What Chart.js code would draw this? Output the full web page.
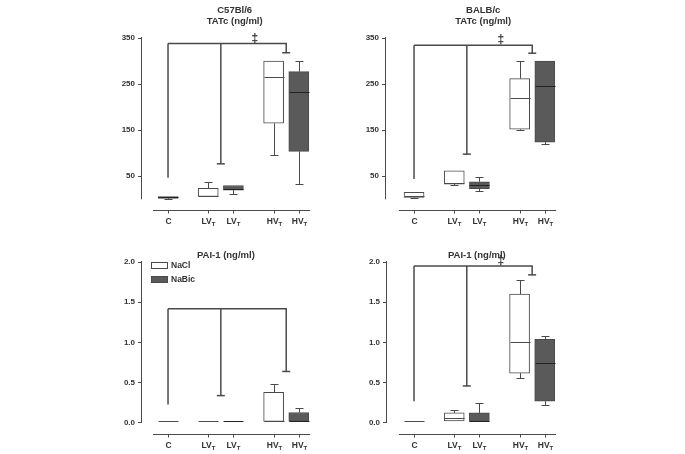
<!DOCTYPE html>
<html lang="en">
<head>
<meta charset="UTF-8" />
<title>TATc and PAI-1</title>
<script src="https://cdn.jsdelivr.net/npm/chart.js@4.4.1/dist/chart.umd.min.js"></script>
<style>
  body { margin: 0; background: #fff; }
  #fig { position: relative; width: 685px; height: 454px; overflow: hidden; }
  #fig canvas { position: absolute; }
</style>
</head>
<body>
<div id="fig">
  <canvas id="tatC57" width="230" height="230" style="left:100px;top:0px"></canvas>
  <canvas id="tatBalb" width="230" height="230" style="left:340px;top:0px"></canvas>
  <canvas id="paiC57" width="230" height="214" style="left:100px;top:240px"></canvas>
  <canvas id="paiBalb" width="230" height="214" style="left:340px;top:240px"></canvas>
</div>
<script>
  // groups along the x axis (main label + subscript)
  const groups = ["C", "LV", "LV", "HV", "HV"];
  const groupSub = ["", "T", "T", "T", "T"];
  const treatment = ["C", "NaCl", "NaBic", "NaCl", "NaBic"];

  // TATc, C57Bl/6
  const tatC57Min = [1, 4, 12, 96, 34];
  const tatC57Q1 = [2, 6, 20, 165, 104];
  const tatC57Med = [4, 8, 23, 266, 233];
  const tatC57Q3 = [6, 24, 30, 300, 277];
  const tatC57Max = [7, 38, 33, 300, 300];
  const tatC57Bracket = [338, 47, 77, 318];   // top, then drops at C, LV, HV

  // TATc, BALB/c
  const tatBalbMin = [3, 32, 19, 150, 121];
  const tatBalbQ1 = [4, 33, 23, 152, 124];
  const tatBalbMed = [8, 36, 30, 220, 246];
  const tatBalbQ3 = [15, 62, 38, 262, 300];
  const tatBalbMax = [17, 64, 48, 300, 300];
  const tatBalbBracket = [334, 44, 98, 317];

  // PAI-1, C57Bl/6
  const paiC57Min = [0.02, 0.02, 0.02, 0.02, 0.02];
  const paiC57Q1 = [0.02, 0.02, 0.02, 0.02, 0.02];
  const paiC57Med = [0.02, 0.02, 0.02, 0.025, 0.02];
  const paiC57Q3 = [0.02, 0.02, 0.02, 0.38, 0.13];
  const paiC57Max = [0.02, 0.02, 0.02, 0.48, 0.18];
  const paiC57Bracket = [1.42, 0.23, 0.34, 0.64];

  // PAI-1, BALB/c
  const paiBalbMin = [0.02, 0.02, 0.02, 0.56, 0.22];
  const paiBalbQ1 = [0.02, 0.025, 0.02, 0.62, 0.27];
  const paiBalbMed = [0.02, 0.066, 0.03, 1.0, 0.74];
  const paiBalbQ3 = [0.02, 0.125, 0.125, 1.6, 1.04];
  const paiBalbMax = [0.02, 0.16, 0.245, 1.78, 1.075];
  const paiBalbBracket = [1.95, 0.27, 0.46, 1.84];

  const tatTicks = [50, 150, 250, 350];
  const paiTicks = [0, 0.5, 1.0, 1.5, 2.0];

  // layout
  const xPos = [0, 3.2, 5.2, 8.4, 10.4];
  const bracketX = [0, 4.2, 9.4];
  const markX = 6.9;
  const FONT = "'Liberation Sans', Arial, sans-serif";
  const INK = "#333";
  const LINE = "#4a4a4a";
  const DARK = "#5a5a5a";
  const BOX_W = 20, CAP_W = 8;

  function seg(ctx, x1, y1, x2, y2) {
    ctx.beginPath();
    ctx.moveTo(x1, y1);
    ctx.lineTo(x2, y2);
    ctx.stroke();
  }
  const snap = v => Math.round(v) + 0.5;

  const extras = {
    id: "extras",
    afterDatasetsDraw(chart, args, o) {
      const ctx = chart.ctx, xs = chart.scales.x, ys = chart.scales.y, a = chart.chartArea;
      ctx.save();
      ctx.strokeStyle = LINE;
      ctx.lineWidth = 1;

      // whiskers and medians
      o.min.forEach((mn, i) => {
        const cx = snap(xs.getPixelForValue(xPos[i]));
        const yMin = snap(ys.getPixelForValue(mn)), yMax = snap(ys.getPixelForValue(o.max[i]));
        const yQ1 = ys.getPixelForValue(o.q1[i]), yQ3 = ys.getPixelForValue(o.q3[i]);
        if (yMax < yQ3 - 1) {
          seg(ctx, cx, yQ3, cx, yMax);
          seg(ctx, cx - CAP_W / 2, yMax, cx + CAP_W / 2, yMax);
        }
        if (yMin > yQ1 + 1) {
          seg(ctx, cx, yQ1, cx, yMin);
          seg(ctx, cx - CAP_W / 2, yMin, cx + CAP_W / 2, yMin);
        }
        const yMed = snap(ys.getPixelForValue(o.med[i]));
        ctx.strokeStyle = o.fills[i] === DARK ? "#222" : LINE;
        seg(ctx, cx - BOX_W / 2, yMed, cx + BOX_W / 2, yMed);
        ctx.strokeStyle = LINE;
      });

      // significance bracket
      ctx.lineWidth = 1.5;
      const top = ys.getPixelForValue(o.bracket[0]);
      const bx = bracketX.map(v => xs.getPixelForValue(v));
      seg(ctx, bx[0], top, bx[2] + 0.75, top);
      bx.forEach((px, k) => {
        const yb = ys.getPixelForValue(o.bracket[k + 1]);
        seg(ctx, px, top, px, yb);
        if (k > 0) seg(ctx, px - CAP_W / 2, yb, px + CAP_W / 2, yb);
      });
      if (o.mark) {
        ctx.fillStyle = INK;
        ctx.font = "bold 12px " + FONT;
        ctx.textAlign = "center";
        ctx.textBaseline = "alphabetic";
        ctx.fillText("\u2021", xs.getPixelForValue(markX), top - 2);
      }

      // y axis line (stops at zero) and detached x axis line with ticks
      ctx.lineWidth = 1;
      const ax = snap(a.left) - 1;
      seg(ctx, ax, ys.getPixelForValue(o.yMax) - 1, ax, ys.getPixelForValue(0));
      const xy = snap(a.bottom);
      seg(ctx, xs.getPixelForValue(-1.2), xy, xs.getPixelForValue(11.3), xy);
      ctx.fillStyle = INK;
      ctx.textBaseline = "middle";
      xPos.forEach((v, i) => {
        const px = snap(xs.getPixelForValue(v));
        seg(ctx, px, xy, px, xy + 3);
        ctx.font = "bold 8.5px " + FONT;
        const wMain = ctx.measureText(groups[i]).width;
        ctx.font = "bold 6px " + FONT;
        const wSub = groupSub[i] ? ctx.measureText(groupSub[i]).width : 0;
        const x0 = px - (wMain + wSub) / 2;
        ctx.textAlign = "left";
        ctx.font = "bold 8.5px " + FONT;
        ctx.fillText(groups[i], x0, xy + 11);
        if (groupSub[i]) {
          ctx.font = "bold 6px " + FONT;
          ctx.fillText(groupSub[i], x0 + wMain, xy + 14);
        }
      });

      // panel titles
      ctx.textAlign = "center";
      ctx.font = "bold 9.5px " + FONT;
      const tx = xs.getPixelForValue(o.titleX);
      o.title.forEach((t, k) => {
        ctx.fillText(t, tx, a.top + o.titleY + k * 11);
      });

      // legend
      if (o.legend) {
        const lx = a.left + 9, ly = a.top;
        ctx.fillStyle = "#fff";
        ctx.fillRect(lx, ly, 16, 6);
        ctx.strokeRect(lx + 0.5, ly + 0.5, 16, 6);
        ctx.fillStyle = DARK;
        ctx.fillRect(lx, ly + 14, 16, 6);
        ctx.strokeRect(lx + 0.5, ly + 14.5, 16, 6);
        ctx.fillStyle = INK;
        ctx.font = "bold 8.5px " + FONT;
        ctx.textAlign = "left";
        ctx.fillText("NaCl", lx + 20, ly + 3.5);
        ctx.fillText("NaBic", lx + 20, ly + 17.5);
      }
      ctx.restore();
    }
  };

  function makePanel(id, s) {
    const fills = treatment.map(t => t === "NaBic" ? DARK : (t === "C" ? s.cFill : "#fff"));
    new Chart(document.getElementById(id), {
      type: "bar",
      data: {
        datasets: [{
          data: xPos.map((x, i) => ({ x: x, y: [s.q1[i], s.q3[i]] })),
          backgroundColor: fills,
          borderColor: LINE,
          borderWidth: 1,
          borderSkipped: false,
          barThickness: BOX_W
        }]
      },
      options: {
        responsive: false,
        animation: false,
        events: [],
        layout: { padding: { top: s.padTop, bottom: 20, right: s.padRight, left: 0 } },
        scales: {
          x: { type: "linear", display: false, offset: false, min: s.xMin, max: s.xMax },
          y: {
            min: s.yMin, max: s.yMax,
            afterFit: sc => { sc.width = s.axisW; },
            afterBuildTicks: sc => { sc.ticks = s.ticks.map(v => ({ value: v })); },
            border: { display: false },
            grid: { drawOnChartArea: false, drawTicks: true, tickLength: 4, color: LINE },
            ticks: {
              color: INK, padding: 3,
              font: { family: FONT, size: 8, weight: "bold" },
              callback: v => s.decimals ? v.toFixed(1) : String(v)
            }
          }
        },
        plugins: {
          legend: { display: false },
          tooltip: { enabled: false },
          extras: {
            min: s.min, max: s.max, q1: s.q1, q3: s.q3, med: s.med, fills: fills,
            bracket: s.bracket, mark: s.mark, yMax: s.yMax,
            title: s.title, titleX: s.titleX, titleY: s.titleY, legend: s.legend
          }
        }
      },
      plugins: [extras]
    });
  }

  makePanel("tatC57", {
    min: tatC57Min, q1: tatC57Q1, med: tatC57Med, q3: tatC57Q3, max: tatC57Max,
    bracket: tatC57Bracket, mark: true, ticks: tatTicks, decimals: false,
    title: ["C57Bl/6", "TATc (ng/ml)"], titleX: 5.3, titleY: -28, legend: false,
    cFill: DARK, padTop: 38, padRight: 15, axisW: 42,
    xMin: -2.07, xMax: 11.69, yMin: -23.2, yMax: 350
  });
  makePanel("tatBalb", {
    min: tatBalbMin, q1: tatBalbQ1, med: tatBalbMed, q3: tatBalbQ3, max: tatBalbMax,
    bracket: tatBalbBracket, mark: true, ticks: tatTicks, decimals: false,
    title: ["BALB/c", "TATc (ng/ml)"], titleX: 5.5, titleY: -28, legend: false,
    cFill: "#fff", padTop: 38, padRight: 15, axisW: 46,
    xMin: -2.23, xMax: 11.21, yMin: -23.2, yMax: 350
  });
  makePanel("paiC57", {
    min: paiC57Min, q1: paiC57Q1, med: paiC57Med, q3: paiC57Q3, max: paiC57Max,
    bracket: paiC57Bracket, mark: false, ticks: paiTicks, decimals: true,
    title: ["PAI-1 (ng/ml)"], titleX: 4.6, titleY: -7, legend: true,
    cFill: "#fff", padTop: 22, padRight: 15, axisW: 42,
    xMin: -2.07, xMax: 11.69, yMin: -0.137, yMax: 2.0
  });
  makePanel("paiBalb", {
    min: paiBalbMin, q1: paiBalbQ1, med: paiBalbMed, q3: paiBalbQ3, max: paiBalbMax,
    bracket: paiBalbBracket, mark: true, ticks: paiTicks, decimals: true,
    title: ["PAI-1 (ng/ml)"], titleX: 5.0, titleY: -7, legend: false,
    cFill: "#fff", padTop: 22, padRight: 15, axisW: 47,
    xMin: -2.15, xMax: 11.22, yMin: -0.137, yMax: 2.0
  });
</script>
</body>
</html>
